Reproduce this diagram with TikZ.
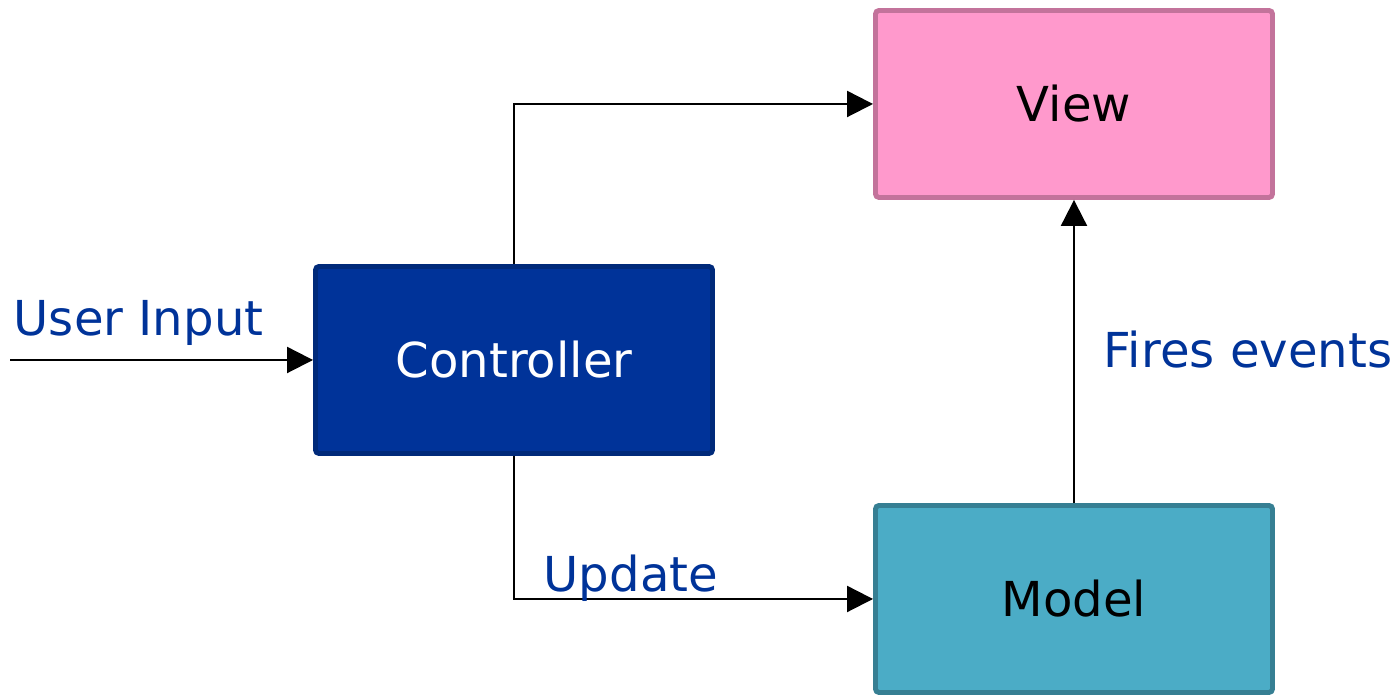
\documentclass[tikz,border=0pt]{standalone}
\usepackage{fontspec}
\setmainfont{DejaVu Sans}
\usepackage{xcolor}
\usepackage{tikz}
\usetikzlibrary{arrows.meta, positioning}

\definecolor{ctrlblue}{HTML}{003399}
\definecolor{ctrledge}{HTML}{002A7A}
\definecolor{viewpink}{HTML}{FF99CC}
\definecolor{viewedge}{HTML}{C3739B}
\definecolor{modelteal}{HTML}{4BACC6}
\definecolor{modeledge}{HTML}{367F93}

\begin{document}
\begin{tikzpicture}[x=1cm, y=-1cm, font=\fontsize{13.7}{16}\selectfont,
    box/.style={draw, line width=1.4pt, rounded corners=1pt, minimum width=3.97cm, minimum height=1.87cm, inner sep=0pt},
    lbl/.style={text=ctrlblue, anchor=base west, inner sep=0pt},
    flow/.style={-{Triangle[length=0.26cm, width=0.26cm]}, line width=0.6pt}]
  \useasboundingbox (0,0) rectangle (13.96,6.97);

  % the three parts
  \node[box, fill=viewpink, draw=viewedge] (view) at (10.74,1.04) {View};
  \node[box, fill=ctrlblue, draw=ctrledge, text=white] (ctrl) at (5.14,3.60) {Controller};
  \node[box, fill=modelteal, draw=modeledge] (model) at (10.74,5.99) {Model};

  % input coming in from the left
  \coordinate (in) at (0.10,3.60);
  \draw[flow] (in) -- (ctrl.west);
  \node[lbl] (inlbl) at (0.13,3.36) {User Input};

  % controller talks to view and model
  \draw[flow] (ctrl.north) |- (view.west);
  \draw[flow] (ctrl.south) |- (model.west);
  \node[lbl] (updlbl) at (5.43,5.92) {Update};

  % model notifies the view
  \draw[flow] (model.north) -- (view.south);
  \node[lbl] (firelbl) at (11.03,3.68) {Fires events};
\end{tikzpicture}
\end{document}
